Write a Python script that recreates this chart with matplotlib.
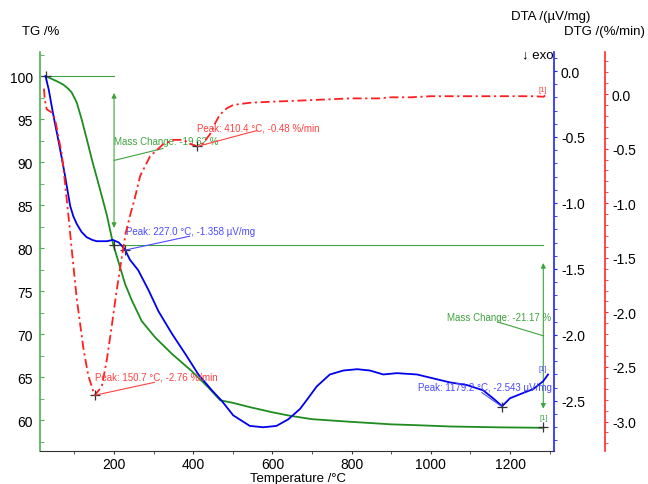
import matplotlib.pyplot as plt
from matplotlib.ticker import MultipleLocator

plt.rcParams['font.family'] = ['Liberation Sans', 'DejaVu Sans']
plt.rcParams['axes.unicode_minus'] = False

# TG curve (mass %)
tg_temp = [27, 46, 60, 72, 85, 93, 106, 118, 131, 144, 160, 182, 198, 215, 228, 245, 270,
           304, 346, 396, 438, 468, 500, 543, 600, 644, 700, 796, 900, 965, 1050, 1175, 1284]
tg_mass = [100.0, 99.6, 99.3, 99.0, 98.5, 98.1, 96.9, 95.0, 92.7, 90.3, 87.6, 83.8, 80.4, 77.8,
           75.8, 73.9, 71.5, 69.6, 67.7, 65.7, 63.8, 62.3, 62.0, 61.5, 60.9, 60.5, 60.1, 59.8,
           59.5, 59.4, 59.25, 59.15, 59.1]

# DTA curve (uV/mg)
dta_temp = [27, 35, 47, 59, 68, 76, 89, 97, 106, 118, 131, 145, 156, 170, 182, 197, 212, 227,
            240, 261, 287, 312, 346, 379, 413, 447, 472, 501, 543, 577, 610, 640, 670, 690, 712,
            745, 779, 814, 846, 880, 914, 965, 1048, 1091, 1132, 1157, 1180, 1200, 1225, 1259,
            1284, 1296]
dta_val = [-0.04, -0.14, -0.34, -0.52, -0.66, -0.79, -1.02, -1.10, -1.16, -1.22, -1.26, -1.28,
           -1.29, -1.29, -1.29, -1.28, -1.30, -1.35, -1.43, -1.51, -1.66, -1.82, -1.99, -2.14,
           -2.30, -2.42, -2.50, -2.61, -2.69, -2.70, -2.69, -2.64, -2.56, -2.48, -2.39, -2.30,
           -2.27, -2.26, -2.27, -2.30, -2.29, -2.30, -2.36, -2.38, -2.42, -2.48, -2.54, -2.48,
           -2.45, -2.41, -2.35, -2.30]

# DTG curve (%/min)
dtg_temp = [23, 25, 30, 43, 51, 59, 68, 76, 85, 93, 106, 123, 135, 151, 169, 182, 194, 207,
            219, 229, 240, 252, 266, 291, 324, 350, 375, 395, 410, 425, 442, 455, 467, 485, 501,
            543, 600, 670, 796, 870, 900, 950, 1000, 1100, 1200, 1260, 1285, 1292]
dtg_val = [0.05, -0.05, -0.14, -0.17, -0.23, -0.38, -0.55, -0.81, -1.12, -1.42, -1.88, -2.34,
           -2.58, -2.76, -2.68, -2.43, -2.13, -1.79, -1.51, -1.28, -1.12, -0.96, -0.75, -0.57,
           -0.46, -0.42, -0.42, -0.46, -0.48, -0.45, -0.37, -0.27, -0.19, -0.13, -0.10, -0.08,
           -0.07, -0.06, -0.04, -0.04, -0.03, -0.03, -0.02, -0.02, -0.02, -0.02, -0.025, 0.0]

# evaluation results
step_temp = [200, 1284]
step_change = [-19.62, -21.17]
dtg_peak_temp = [150.7, 410.4]
dtg_peak_val = [-2.76, -0.48]
dta_peak_temp = [227.0, 1179.2]
dta_peak_val = [-1.358, -2.543]

green = '#1e8c1e'
green_l = '#3fa33f'
blue = '#0000ee'
blue_l = '#4a4aff'
red = '#ff1f1f'
red_l = '#ff4040'
px = 0.72  # points per pixel at dpi 100
ann_fs = 7
tick_fs = 10
title_fs = 9.5

fig = plt.figure(figsize=(6.48, 4.85), dpi=100)
ax = fig.add_axes([40 / 648, 33 / 485, 514 / 648, 399 / 485])
ax2 = ax.twinx()
ax3 = ax.twinx()

ax.set_xlim(13, 1311)
ax.set_ylim(56.4, 102.8)
ax2.set_ylim(-2.88, 0.144)
ax3.set_ylim(-3.27, 0.385)

for a in (ax, ax2, ax3):
    a.spines['top'].set_visible(False)
ax.spines['right'].set_visible(False)
ax.spines['left'].set_color('#4caf50')
ax.spines['left'].set_linewidth(1.2)
ax.spines['bottom'].set_color('#333333')
ax2.spines['left'].set_visible(False)
ax2.spines['bottom'].set_visible(False)
ax2.spines['right'].set_color('#2020ff')
ax2.spines['right'].set_linewidth(1.2)
ax3.spines['left'].set_visible(False)
ax3.spines['bottom'].set_visible(False)
ax3.spines['right'].set_position(('axes', 565 / 514))
ax3.spines['right'].set_color('#ff2a2a')
ax3.spines['right'].set_linewidth(1.2)

ax.xaxis.set_minor_locator(MultipleLocator(100))
ax.set_xticks([200, 400, 600, 800, 1000, 1200])
ax.tick_params(axis='x', which='both', direction='out', length=2.5, color='#333333',
               labelsize=tick_fs, pad=2)
ax.yaxis.set_minor_locator(MultipleLocator(2.5))
ax.set_yticks([60, 65, 70, 75, 80, 85, 90, 95, 100])
ax.tick_params(axis='y', which='both', direction='in', length=3, color='#4caf50',
               labelsize=tick_fs, pad=5)
for a, c in ((ax2, '#2020ff'), (ax3, '#ff2a2a')):
    a.yaxis.set_minor_locator(MultipleLocator(0.1))
    a.tick_params(axis='y', which='both', direction='out', length=2.5, color=c,
                  labelsize=tick_fs, pad=2.5)
ax2.set_yticks([-2.5, -2.0, -1.5, -1.0, -0.5, 0.0])
ax3.set_yticks([-3.0, -2.5, -2.0, -1.5, -1.0, -0.5, 0.0])

# curves
ax.plot(tg_temp, tg_mass, color=green, lw=1.3)
ax2.plot(dta_temp, dta_val, color=blue, lw=1.3)
ax3.plot(dtg_temp, dtg_val, color=red, lw=1.3, dashes=(5, 2, 1.2, 2))

# mass change evaluation
levels = [100.0]
for ch in step_change:
    levels.append(levels[-1] + ch)
ax.plot([tg_temp[0], step_temp[0]], [levels[0], levels[0]], color=green_l, lw=0.8)
ax.plot([step_temp[0], step_temp[1]], [levels[1], levels[1]], color=green_l, lw=0.8)
text_off = [(0, 19), (-96, 19)]
link_off = [(49, 12), (-46, 14)]
for i, t in enumerate(step_temp):
    hi, lo = levels[i], levels[i + 1]
    inset = 0.1 * (hi - lo)
    ax.annotate('', xy=(t, hi - inset), xytext=(t, lo + inset),
                arrowprops=dict(arrowstyle='<|-|>', color=green_l, lw=0.8,
                                mutation_scale=7, shrinkA=0, shrinkB=0))
    mid = (hi + lo) / 2
    ax.annotate('', xy=(t, mid), xytext=(link_off[i][0] * px, link_off[i][1] * px),
                textcoords='offset points',
                arrowprops=dict(arrowstyle='-', color=green_l, lw=0.8, shrinkA=0, shrinkB=0))
    ax.annotate('Mass Change: %.2f %%' % step_change[i], xy=(t, mid),
                xytext=(text_off[i][0] * px, text_off[i][1] * px), textcoords='offset points',
                color=green_l, fontsize=ann_fs, va='center', ha='left')
ax.plot([tg_temp[0], step_temp[0], step_temp[1]], [levels[0], levels[1], levels[2]], '+',
        color='#333333', ms=7, mew=0.9)
ax.annotate('[1]', xy=(step_temp[1], levels[2]), xytext=(0, 4), textcoords='offset points',
            color=green_l, fontsize=5.5, ha='center', va='bottom')

# peaks
def peak(a, t, v, label, color, toff, loff):
    a.plot([t], [v], '+', color='#333333', ms=7, mew=0.9)
    a.annotate('', xy=(t, v), xytext=(loff[0] * px, loff[1] * px), textcoords='offset points',
               arrowprops=dict(arrowstyle='-', color=color, lw=0.8, shrinkA=0, shrinkB=0))
    a.annotate(label, xy=(t, v), xytext=(toff[0] * px, toff[1] * px), textcoords='offset points',
               color=color, fontsize=ann_fs, va='center', ha='left')

dtg_toff = [(0, 19), (0, 19)]
dtg_loff = [(60, 13), (60, 16)]
for i in range(2):
    peak(ax3, dtg_peak_temp[i], dtg_peak_val[i],
         'Peak: %.1f °C, %.2f %%/min' % (dtg_peak_temp[i], dtg_peak_val[i]),
         red_l, dtg_toff[i], dtg_loff[i])
dta_toff = [(1, 19), (-84, 20)]
dta_loff = [(65, 14), (-20, 14)]
for i in range(2):
    peak(ax2, dta_peak_temp[i], dta_peak_val[i],
         'Peak: %.1f °C, %.3f µV/mg' % (dta_peak_temp[i], dta_peak_val[i]),
         blue_l, dta_toff[i], dta_loff[i])

ax2.annotate('[1]', xy=(dta_temp[-1], dta_val[-1]), xytext=(-4, 2), textcoords='offset points',
             color=blue_l, fontsize=5.5, ha='center', va='bottom')
ax3.annotate('[1]', xy=(dtg_temp[-1], dtg_val[-1]), xytext=(-3, 1), textcoords='offset points',
             color=red_l, fontsize=5.5, ha='center', va='bottom')

# axis titles
fig.text(22 / 648, 1 - 32 / 485, 'TG /%', fontsize=title_fs, va='center', ha='left')
fig.text(590 / 648, 1 - 17 / 485, 'DTA /(µV/mg)', fontsize=title_fs, va='center', ha='right')
fig.text(645 / 648, 1 - 32 / 485, 'DTG /(%/min)', fontsize=title_fs, va='center', ha='right')
fig.text(554 / 648, 1 - 55 / 485, '↓ exo', fontsize=title_fs, va='center', ha='right')
fig.text(298 / 648, 1 - 479 / 485, 'Temperature /°C', fontsize=title_fs, va='center',
         ha='center')

plt.savefig('out.png', dpi=100, facecolor='white')
